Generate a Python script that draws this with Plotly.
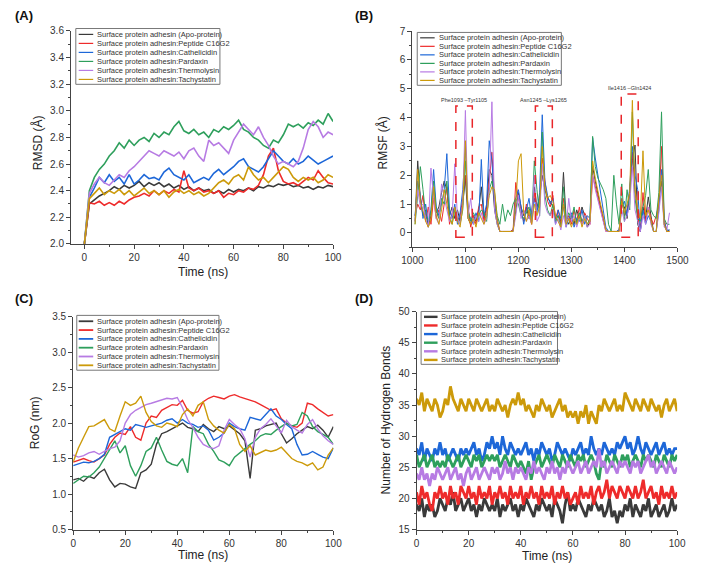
import plotly.graph_objects as go

SERIES = ["Surface protein adhesin (Apo-protein)",
          "Surface protein adhesin:Peptide C16G2",
          "Surface protein adhesin:Cathelicidin",
          "Surface protein adhesin:Pardaxin",
          "Surface protein adhesin:Thermolysin",
          "Surface protein adhesin:Tachystatin"]
COLORS = ["#3a3a3a", "#ee2b2b", "#1d67d8", "#2e9f5c", "#b77be3", "#cc9a0a"]

# ---------------- (A) RMSD ----------------
TIME_A = list(range(0, 101, 2))
RMSD_APO = [2.00, 2.30, 2.33, 2.36, 2.38, 2.40, 2.43, 2.41, 2.44, 2.42,
            2.44, 2.47, 2.43, 2.46, 2.44, 2.46, 2.43, 2.45, 2.42, 2.44,
            2.41, 2.43, 2.40, 2.42, 2.40, 2.41, 2.38, 2.40, 2.38, 2.41,
            2.39, 2.41, 2.40, 2.42, 2.40, 2.43, 2.42, 2.44, 2.43, 2.45,
            2.44, 2.45, 2.43, 2.44, 2.42, 2.43, 2.41, 2.43, 2.42, 2.44,
            2.43]
RMSD_C16G2 = [2.00, 2.31, 2.30, 2.32, 2.29, 2.31, 2.29, 2.32, 2.30, 2.33,
              2.35, 2.36, 2.38, 2.36, 2.40, 2.37, 2.40, 2.38, 2.41, 2.39,
              2.55, 2.42, 2.40, 2.42, 2.39, 2.40, 2.38, 2.40, 2.35, 2.38,
              2.37, 2.40, 2.39, 2.42, 2.41, 2.44, 2.52, 2.66, 2.72, 2.55,
              2.47, 2.45, 2.46, 2.44, 2.47, 2.50, 2.48, 2.55, 2.50, 2.46,
              2.45]
RMSD_CATH = [2.00, 2.35, 2.42, 2.50, 2.46, 2.52, 2.47, 2.50, 2.45, 2.52,
             2.45, 2.48, 2.52, 2.49, 2.50, 2.48, 2.54, 2.57, 2.52, 2.50,
             2.48, 2.52, 2.46, 2.48, 2.50, 2.48, 2.53, 2.56, 2.52, 2.55,
             2.58, 2.62, 2.64, 2.58, 2.56, 2.54, 2.58, 2.64, 2.70, 2.66,
             2.62, 2.60, 2.64, 2.60, 2.62, 2.66, 2.63, 2.60, 2.62, 2.64,
             2.66]
RMSD_PARD = [2.00, 2.40, 2.50, 2.56, 2.60, 2.66, 2.70, 2.76, 2.72, 2.78,
             2.74, 2.78, 2.80, 2.77, 2.83, 2.80, 2.84, 2.82, 2.88, 2.92,
             2.85, 2.83, 2.86, 2.82, 2.84, 2.80, 2.86, 2.84, 2.88, 2.86,
             2.89, 2.93, 2.86, 2.84, 2.80, 2.78, 2.74, 2.72, 2.78, 2.76,
             2.82, 2.90, 2.88, 2.90, 2.87, 2.91, 2.89, 2.93, 2.90, 2.98,
             2.92]
RMSD_THERM = [2.00, 2.38, 2.45, 2.50, 2.46, 2.44, 2.48, 2.52, 2.50, 2.55,
              2.58, 2.62, 2.66, 2.70, 2.68, 2.66, 2.70, 2.68, 2.66, 2.69,
              2.64, 2.70, 2.72, 2.66, 2.62, 2.78, 2.74, 2.76, 2.72, 2.68,
              2.78, 2.84, 2.90, 2.86, 2.82, 2.88, 2.80, 2.74, 2.66, 2.60,
              2.62, 2.60, 2.58, 2.62, 2.72, 2.86, 2.92, 2.88, 2.80, 2.84,
              2.82]
RMSD_TACHY = [2.00, 2.34, 2.38, 2.42, 2.37, 2.40, 2.38, 2.41, 2.37, 2.40,
              2.36, 2.39, 2.42, 2.38, 2.40, 2.37, 2.40, 2.35, 2.39, 2.41,
              2.38, 2.40, 2.37, 2.39, 2.36, 2.38, 2.42, 2.46, 2.48, 2.45,
              2.50, 2.52, 2.48, 2.58, 2.52, 2.48, 2.50, 2.46, 2.50, 2.54,
              2.58, 2.56, 2.50, 2.47, 2.50, 2.48, 2.50, 2.46, 2.48, 2.52,
              2.50]

# ---------------- (B) RMSF ----------------
RESIDUE = list(range(1005, 1486, 5))
RMSF_APO = [0.4, 2.5, 1.2, 0.6, 0.8, 0.2, 0.6, 1.5, 0.7, 0.9,
            1.4, 1.8, 1.5, 0.6, 0.9, 0.5, 0.8, 0.4, 1.0, 1.9,
            0.5, 0.3, 0.6, 0.4, 0.8, 1.6, 0.5, 0.9, 2.2, 2.0,
            0.8, 0.3, 0.05, 0.05, 0.05, 0.05, 0.05, 0.1, 0.8, 1.4,
            0.9, 0.6, 0.9, 0.5, 0.7, 1.6, 0.9, 1.2, 2.0, 1.5,
            1.2, 1.1, 0.9, 0.5, 0.6, 0.4, 2.1, 0.5, 0.3, 0.6,
            0.3, 0.8, 0.5, 0.9, 0.6, 0.2, 0.4, 2.3, 1.8, 1.3,
            0.9, 0.5, 0.1, 0.05, 0.05, 0.05, 0.05, 0.1, 1.0, 0.9,
            0.5, 1.5, 2.5, 3.05, 0.3, 0.05, 0.9, 0.5, 1.25, 0.6,
            0.05, 0.05, 1.2, 1.8, 0.3, 0.05, 0.1]
RMSF_C16G2 = [0.6, 1.0, 0.8, 1.3, 0.4, 0.9, 0.3, 1.2, 0.5, 0.8,
              0.4, 1.0, 1.6, 0.3, 0.7, 0.9, 0.4, 0.6, 1.2, 2.0,
              0.9, 0.2, 0.6, 0.3, 0.9, 1.0, 0.4, 0.8, 1.8, 2.8,
              1.2, 0.5, 0.05, 0.05, 0.05, 0.05, 0.05, 0.1, 1.75, 1.2,
              0.8, 0.4, 1.0, 0.6, 0.3, 1.4, 0.8, 1.0, 2.6, 1.8,
              1.1, 0.9, 1.3, 0.5, 0.8, 0.3, 1.2, 0.4, 0.6, 0.3,
              0.8, 0.4, 0.9, 0.3, 0.7, 0.5, 0.3, 2.0, 1.6, 1.2,
              0.8, 0.4, 0.05, 0.05, 0.05, 0.05, 0.05, 0.05, 1.2, 0.6,
              0.8, 1.3, 2.8, 1.5, 0.6, 0.05, 1.4, 0.4, 0.9, 0.5,
              0.3, 0.6, 1.0, 3.0, 0.5, 0.05, 0.05]
RMSF_CATH = [0.6, 1.8, 1.3, 0.5, 1.0, 0.3, 0.8, 2.2, 0.9, 0.6,
             1.0, 1.5, 2.75, 0.8, 0.5, 1.0, 0.3, 0.7, 1.5, 3.0,
             0.7, 0.5, 0.3, 0.7, 0.4, 2.55, 0.6, 1.0, 3.2, 2.5,
             1.0, 0.4, 0.05, 0.05, 0.05, 0.05, 0.05, 0.05, 1.2, 1.5,
             0.9, 0.3, 0.8, 1.2, 0.5, 1.2, 0.7, 1.4, 4.1, 1.8,
             1.3, 1.0, 1.2, 0.3, 0.8, 0.5, 0.9, 0.2, 0.5, 0.7,
             0.2, 0.5, 0.4, 0.8, 0.3, 0.6, 0.5, 3.3, 2.6, 2.0,
             1.4, 0.8, 0.2, 0.05, 0.05, 0.05, 0.05, 0.1, 0.9, 1.1,
             0.6, 1.6, 3.0, 2.0, 1.5, 0.05, 0.8, 0.3, 0.6, 0.4,
             0.05, 0.05, 0.8, 2.2, 0.4, 0.1, 0.1]
RMSF_PARD = [0.3, 1.4, 2.3, 1.5, 0.6, 0.4, 0.7, 1.8, 0.8, 0.5,
             1.2, 1.0, 1.8, 0.6, 0.3, 0.8, 0.5, 0.3, 0.8, 2.5,
             0.8, 0.4, 0.7, 0.5, 0.6, 0.8, 0.7, 0.4, 1.5, 1.8,
             1.4, 0.6, 0.3, 1.0, 0.4, 0.8, 0.6, 1.0, 1.2, 1.0,
             0.6, 0.5, 0.7, 0.9, 0.4, 2.5, 1.5, 0.6, 3.5, 1.3,
             0.8, 0.6, 1.0, 0.4, 0.6, 0.2, 1.6, 0.4, 0.7, 0.5,
             0.9, 0.3, 0.7, 0.4, 0.6, 0.3, 0.5, 3.35, 2.3, 1.9,
             1.7, 1.5, 1.2, 0.3, 0.05, 2.0, 1.0, 0.3, 1.7, 0.4,
             1.5, 0.8, 4.2, 1.2, 0.5, 0.4, 0.9, 1.3, 2.2, 0.8,
             0.6, 0.5, 1.4, 4.2, 0.5, 0.3, 0.3]
RMSF_THERM = [0.4, 1.5, 0.9, 1.0, 0.5, 0.2, 2.25, 1.2, 0.5, 0.3,
              1.7, 1.2, 0.8, 0.4, 0.6, 2.4, 0.5, 0.3, 1.0, 4.25,
              0.6, 1.2, 0.3, 0.6, 0.4, 0.7, 0.3, 0.5, 1.5, 4.55,
              0.8, 0.3, 0.05, 0.05, 0.05, 0.05, 0.05, 0.05, 0.6, 1.3,
              0.5, 0.8, 0.4, 0.6, 0.3, 2.0, 0.4, 0.6, 2.4, 1.0,
              0.7, 0.6, 0.8, 0.3, 0.5, 0.1, 0.6, 0.2, 1.2, 0.4,
              0.6, 0.2, 0.5, 0.3, 0.6, 0.2, 0.3, 2.0, 1.5, 1.1,
              0.7, 0.4, 0.05, 0.05, 0.05, 0.05, 0.05, 0.05, 0.8, 0.4,
              0.6, 1.0, 2.3, 0.8, 0.4, 0.05, 0.6, 0.3, 0.9, 0.3,
              0.05, 0.05, 0.7, 1.6, 0.2, 0.1, 0.7]
RMSF_TACHY = [0.3, 2.2, 1.1, 0.7, 0.4, 0.2, 0.5, 1.6, 0.6, 0.3,
              0.8, 1.5, 1.0, 0.5, 0.3, 0.9, 0.4, 0.2, 0.9, 3.2,
              0.5, 0.3, 0.5, 0.2, 0.7, 0.5, 0.3, 0.6, 1.3, 1.6,
              1.5, 0.4, 0.05, 0.05, 0.05, 0.05, 0.05, 0.05, 1.0, 2.5,
              2.75, 0.7, 0.4, 0.8, 0.3, 1.0, 0.6, 0.9, 3.0, 1.6,
              1.2, 1.3, 1.1, 0.6, 0.4, 0.2, 1.0, 0.3, 0.5, 0.2,
              0.5, 0.3, 0.6, 0.2, 0.5, 0.3, 0.4, 2.5, 1.9, 1.4,
              1.0, 0.6, 0.1, 0.05, 0.05, 0.05, 0.05, 0.05, 1.1, 0.7,
              1.0, 1.4, 4.6, 1.5, 0.8, 0.5, 2.85, 0.6, 0.8, 0.4,
              0.05, 0.05, 1.2, 2.0, 0.3, 0.05, 0.05]
REGION_LABELS = ["Phe1093 \u2013Tyr1105", "Asn1245 \u2013Lys1265", "Ile1416 \u2013Gln1424"]
REGION_START = [1082, 1232, 1394]
REGION_END = [1113, 1264, 1426]
REGION_LOW = [-0.15, -0.15, -0.15]
REGION_HIGH = [4.4, 4.4, 4.82]

# ---------------- (C) RoG ----------------
TIME_C = list(range(0, 101, 2))
ROG_APO = [1.20, 1.22, 1.18, 1.25, 1.22, 1.30, 1.35, 1.20, 1.10, 1.15,
           1.14, 1.10, 1.08, 1.30, 1.34, 1.42, 1.70, 1.85, 1.88, 1.92,
           1.95, 2.00, 1.94, 1.92, 1.88, 1.98, 1.92, 1.88, 1.95, 1.92,
           1.96, 1.90, 1.85, 1.75, 1.22, 1.90, 1.92, 1.96, 1.98, 2.00,
           1.85, 1.72, 1.78, 1.85, 1.90, 1.95, 1.92, 1.97, 1.90, 1.80,
           1.95]
ROG_C16G2 = [1.45, 1.48, 1.50, 1.47, 1.45, 1.50, 1.55, 1.70, 1.80, 1.86,
             1.84, 1.95, 1.80, 1.76, 2.00, 2.10, 2.08, 2.18, 2.22, 2.26,
             2.25, 2.32, 2.18, 2.14, 2.16, 2.30, 2.35, 2.38, 2.36, 2.34,
             2.38, 2.40, 2.37, 2.35, 2.32, 2.30, 2.26, 2.22, 2.18, 2.20,
             2.06, 2.00, 1.96, 1.94, 2.00, 2.28, 2.26, 2.20, 2.15, 2.10,
             2.12]
ROG_CATH = [1.40, 1.42, 1.45, 1.44, 1.46, 1.50, 1.56, 1.80, 1.84, 1.88,
            1.92, 1.90, 1.98, 1.96, 1.94, 1.96, 1.98, 2.00, 2.04, 2.06,
            2.00, 2.05, 2.00, 1.98, 1.94, 1.96, 1.90, 1.76, 1.80, 1.86,
            2.00, 1.95, 1.92, 1.90, 2.08, 2.06, 2.04, 2.12, 2.20, 2.10,
            2.05, 1.98, 1.92, 1.70, 1.55, 1.56, 1.60, 1.56, 1.52, 1.50,
            1.65]
ROG_PARD = [1.15, 1.20, 1.25, 1.24, 1.30, 1.38, 1.50, 1.62, 1.75, 1.58,
            1.68, 1.40, 1.25, 1.40, 1.60, 1.65, 1.80, 1.62, 1.46, 1.42,
            1.40, 1.50, 1.30, 1.95, 1.88, 1.85, 1.70, 1.60, 1.48, 1.45,
            1.40, 1.52, 1.58, 1.65, 1.70, 1.75, 1.82, 1.85, 1.84, 1.90,
            1.95, 2.00, 1.96, 1.98, 2.15, 2.10, 1.95, 1.88, 1.84, 1.80,
            1.70]
ROG_THERM = [1.55, 1.52, 1.54, 1.58, 1.60, 1.56, 1.60, 1.64, 1.66, 1.75,
             2.00, 2.12, 2.18, 2.22, 2.26, 2.28, 2.30, 2.33, 2.35, 2.34,
             2.36, 2.22, 2.05, 1.94, 1.80, 1.70, 1.66, 1.64, 1.68, 1.90,
             2.05, 1.98, 1.92, 1.78, 1.52, 1.80, 1.92, 1.98, 2.06, 1.96,
             1.86, 2.04, 1.95, 1.90, 1.86, 1.98, 2.05, 1.92, 1.82, 1.75,
             1.70]
ROG_TACHY = [1.45, 1.65, 1.80, 1.95, 1.96, 2.00, 2.05, 1.92, 1.88, 2.10,
             2.30, 2.25, 2.28, 2.38, 2.15, 2.02, 1.96, 1.94, 2.00, 1.98,
             1.95, 2.12, 2.20, 2.10, 2.25, 2.30, 2.05, 1.96, 1.90, 1.86,
             1.98, 1.92, 1.70, 1.60, 1.68, 1.55, 1.58, 1.62, 1.60, 1.62,
             1.66, 1.58, 1.50, 1.46, 1.44, 1.40, 1.44, 1.34, 1.38, 1.55,
             1.65]

# ---------------- (D) Hydrogen bonds ----------------
TIME_D = list(range(0, 101))
HB_APO = [19, 18, 20, 17, 19, 18, 19, 17, 18, 20,
          19, 18, 20, 19, 21, 18, 19, 20, 18, 19,
          20, 18, 19, 17, 19, 18, 20, 19, 18, 19,
          18, 20, 17, 19, 18, 19, 20, 18, 19, 17,
          19, 18, 20, 19, 18, 17, 19, 18, 20, 19,
          18, 19, 17, 20, 19, 18, 16, 19, 21, 18,
          19, 18, 20, 19, 18, 17, 19, 18, 20, 19,
          18, 19, 17, 18, 20, 17, 18, 16, 18, 17,
          19, 18, 20, 17, 19, 18, 17, 19, 18, 20,
          17, 18, 19, 17, 18, 19, 17, 18, 20, 18,
          19]
HB_C16G2 = [21, 19, 22, 20, 21, 19, 18, 21, 20, 22,
            20, 21, 19, 22, 20, 21, 19, 22, 21, 20,
            22, 20, 21, 19, 22, 20, 21, 20, 22, 19,
            21, 20, 22, 20, 21, 19, 22, 20, 21, 20,
            22, 19, 21, 20, 22, 20, 21, 19, 22, 20,
            21, 20, 22, 19, 21, 20, 22, 20, 21, 19,
            20, 21, 19, 22, 20, 21, 20, 22, 19, 21,
            22, 20, 21, 23, 20, 22, 21, 20, 22, 21,
            20, 22, 21, 20, 22, 20, 21, 23, 20, 21,
            22, 20, 21, 19, 22, 20, 21, 20, 22, 20,
            21]
HB_CATH = [28, 27, 29, 26, 28, 27, 26, 28, 27, 29,
           27, 28, 26, 27, 28, 27, 26, 28, 27, 28,
           27, 28, 29, 27, 28, 26, 27, 29, 28, 30,
           28, 29, 27, 30, 28, 27, 29, 28, 27, 28,
           27, 28, 29, 27, 28, 26, 28, 27, 29, 28,
           27, 28, 26, 27, 29, 28, 27, 28, 27, 26,
           28, 27, 28, 29, 27, 28, 27, 30, 28, 27,
           28, 27, 29, 28, 27, 28, 27, 29, 28, 29,
           30, 28, 29, 27, 28, 30, 28, 27, 29, 28,
           27, 28, 29, 27, 28, 29, 27, 28, 27, 28,
           28]
HB_PARD = [27, 25, 26, 27, 25, 26, 27, 25, 26, 25,
           26, 25, 27, 26, 25, 26, 27, 25, 26, 27,
           26, 25, 27, 26, 27, 25, 26, 27, 26, 27,
           26, 27, 25, 26, 27, 26, 25, 27, 26, 25,
           26, 25, 24, 26, 23, 25, 26, 27, 25, 26,
           27, 26, 25, 27, 26, 25, 27, 26, 25, 27,
           26, 25, 27, 26, 27, 25, 26, 27, 26, 24,
           23, 26, 25, 27, 26, 25, 27, 26, 25, 27,
           26, 27, 25, 26, 27, 26, 25, 27, 26, 27,
           26, 25, 27, 26, 25, 27, 26, 25, 27, 26,
           27]
HB_THERM = [24, 23, 25, 23, 24, 22, 24, 23, 25, 24,
            23, 24, 25, 23, 24, 25, 23, 24, 22, 24,
            25, 23, 24, 25, 23, 24, 25, 24, 23, 25,
            24, 25, 23, 24, 26, 24, 25, 23, 25, 24,
            25, 24, 23, 25, 24, 26, 24, 25, 24, 23,
            25, 24, 26, 24, 25, 23, 25, 24, 26, 25,
            24, 25, 26, 24, 25, 26, 24, 25, 26, 25,
            28, 25, 26, 24, 25, 26, 25, 24, 26, 25,
            26, 25, 24, 26, 25, 26, 24, 25, 26, 27,
            25, 26, 24, 25, 26, 25, 24, 26, 25, 24,
            25]
HB_TACHY = [36, 35, 37, 34, 36, 35, 34, 36, 35, 33,
            34, 36, 35, 38, 36, 35, 34, 36, 35, 34,
            36, 35, 34, 36, 35, 34, 35, 36, 34, 35,
            34, 36, 35, 34, 35, 33, 35, 36, 35, 37,
            35, 36, 34, 35, 34, 33, 35, 34, 36, 35,
            34, 35, 33, 34, 35, 36, 34, 35, 33, 34,
            33, 34, 32, 34, 33, 35, 32, 34, 33, 32,
            35, 34, 36, 35, 34, 35, 36, 34, 35, 34,
            37, 36, 35, 34, 36, 35, 34, 36, 35, 34,
            36, 35, 34, 35, 33, 35, 36, 34, 35, 36,
            34]

FONT = "Liberation Sans, Arial, sans-serif"
W, H = 702, 573


def px(x):
    return x / W


def py(y):
    return 1 - y / H


fig = go.Figure()

panels = [
    ("x", "y", TIME_A, [RMSD_APO, RMSD_C16G2, RMSD_CATH, RMSD_PARD, RMSD_THERM, RMSD_TACHY], 1.6),
    ("x2", "y2", RESIDUE, [RMSF_APO, RMSF_C16G2, RMSF_CATH, RMSF_PARD, RMSF_THERM, RMSF_TACHY], 1.0),
    ("x3", "y3", TIME_C, [ROG_APO, ROG_C16G2, ROG_CATH, ROG_PARD, ROG_THERM, ROG_TACHY], 1.4),
    ("x4", "y4", TIME_D, [HB_APO, HB_C16G2, HB_CATH, HB_PARD, HB_THERM, HB_TACHY], 2.8),
]
for xa, ya, xs, ys_list, lw in panels:
    for name, col, ys in zip(SERIES, COLORS, ys_list):
        fig.add_trace(go.Scatter(x=xs, y=ys, mode="lines", name=name,
                                 line=dict(color=col, width=lw),
                                 xaxis=xa, yaxis=ya, showlegend=False,
                                 hoverinfo="skip"))


def axis(domain, rng, dtick, mdtick, anchor, fmt=None):
    d = dict(domain=domain, range=rng, dtick=dtick, tick0=0, anchor=anchor,
             showline=True, linecolor="#444", linewidth=1,
             ticks="outside", ticklen=4, tickwidth=1, tickcolor="#444",
             showgrid=False, zeroline=False,
             tickfont=dict(size=10, color="#333", family=FONT),
             minor=dict(ticks="outside", ticklen=2, tickcolor="#444", dtick=mdtick, tick0=0))
    if fmt:
        d["tickformat"] = fmt
    return d


fig.update_layout(
    width=W, height=H, margin=dict(l=0, r=0, t=0, b=0),
    paper_bgcolor="white", plot_bgcolor="white", showlegend=False,
    font=dict(family=FONT, color="#333"),
    xaxis=axis([px(62), px(333)], [-5.4, 100], 20, 10, "y"),
    yaxis=axis([py(243), py(25.5)], [2.0, 3.6], 0.2, 0.1, "x", ".1f"),
    xaxis2=axis([px(415), px(689)], [1000, 1500], 100, 50, "y2"),
    yaxis2=axis([py(246.5), py(25.7)], [-0.5, 7], 1, 0.5, "x2"),
    xaxis3=axis([px(64.3), px(333.3)], [0, 100], 20, 10, "y3"),
    yaxis3=axis([py(534.7), py(317.3)], [0.5, 3.5], 0.5, 0.25, "x3", ".1f"),
    xaxis4=axis([px(419.3), px(688.7)], [0, 100], 20, 10, "y4"),
    yaxis4=axis([py(534.7), py(312.3)], [15, 50], 5, 2.5, "x4"),
)

shapes = []
annotations = []

# region boxes in panel B
for lab, x0, x1, y0, y1 in zip(REGION_LABELS, REGION_START, REGION_END, REGION_LOW, REGION_HIGH):
    shapes.append(dict(type="rect", xref="x2", yref="y2", x0=x0, x1=x1, y0=y0, y1=y1,
                       line=dict(color="#e8262a", width=1.5, dash="dash"),
                       fillcolor="rgba(0,0,0,0)"))
    annotations.append(dict(xref="x2", yref="y2", x=(x0 + x1) / 2, y=y1 + 0.2,
                            text=lab, showarrow=False, yanchor="middle",
                            font=dict(size=5.5, color="#333", family=FONT)))

# custom legends
legends = [
    (67, 23, 216, 80, 29.0, 9.2, 70, 85, 87, 1.2),
    (420, 27, 569, 81, 32.5, 8.7, 423, 438, 440, 1.2),
    (68, 316, 215, 372, 322.0, 9.0, 70, 85, 87, 1.8),
    (424, 312, 565, 366, 317.5, 8.8, 427, 441, 443, 2.4),
]
for bx0, by0, bx1, by1, r0, dr, lx0, lx1, tx, llw in legends:
    shapes.append(dict(type="rect", xref="paper", yref="paper",
                       x0=px(bx0), x1=px(bx1), y0=py(by1), y1=py(by0),
                       line=dict(color="#777", width=1), fillcolor="white", layer="above"))
    for i, (name, col) in enumerate(zip(SERIES, COLORS)):
        yy = r0 + i * dr
        shapes.append(dict(type="line", xref="paper", yref="paper",
                           x0=px(lx0), x1=px(lx1), y0=py(yy), y1=py(yy),
                           line=dict(color=col, width=llw), layer="above"))
        annotations.append(dict(xref="paper", yref="paper", x=px(tx), y=py(yy),
                                text=name, showarrow=False, xanchor="left", yanchor="middle",
                                font=dict(size=7.5, color="#333", family=FONT)))

# panel letters
for lab, x, y in [("(A)", 2, 10), ("(B)", 354, 10), ("(C)", 2, 299), ("(D)", 354, 299)]:
    annotations.append(dict(xref="paper", yref="paper", x=px(x), y=py(y), text="<b>%s</b>" % lab,
                            showarrow=False, xanchor="left", yanchor="middle",
                            font=dict(size=13, color="#111", family=FONT)))

# axis titles
for txt, x, y, ang in [("RMSD (Å)", 27, 140, -90), ("Time (ns)", 198, 272, 0),
                       ("RMSF (Å)", 384, 140, -90), ("Residue", 552, 272.5, 0),
                       ("RoG (nm)", 25, 426, -90), ("Time (ns)", 199, 561, 0),
                       ("Number of Hydrogen Bonds", 388, 423, -90), ("Time (ns)", 554, 562, 0)]:
    annotations.append(dict(xref="paper", yref="paper", x=px(x), y=py(y), text=txt,
                            showarrow=False, xanchor="center", yanchor="middle", textangle=ang,
                            font=dict(size=12, color="#222", family=FONT)))

fig.update_layout(shapes=shapes, annotations=annotations)
fig.write_html("out.html")
